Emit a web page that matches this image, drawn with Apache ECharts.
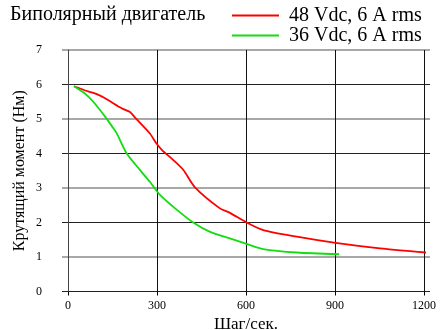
<!DOCTYPE html>
<html><head><meta charset="utf-8">
<script src="https://cdn.jsdelivr.net/npm/echarts@6/dist/echarts.min.js"></script>
<style>html,body{margin:0;padding:0;background:#fff}#c{width:440px;height:330px}</style>
</head><body><div id="c"></div>
<script>
const titleText = 'Биполярный двигатель';
const xName = 'Шаг/сек.';
const yName = 'Крутящий момент (Нм)';
const seriesNames = ['48 Vdc, 6 A rms', '36 Vdc, 6 A rms'];
const red48 = [[20,5.95],[68,5.8],[97,5.72],[125,5.6],[181,5.31],[209,5.2],[226,5.04],[276,4.58],[299,4.28],[317,4.1],[355,3.81],[389,3.52],[428,3.02],[512,2.41],[546,2.28],[600,2.01],[658,1.78],[771,1.59],[902,1.41],[1052,1.25],[1220,1.12]];
const green36 = [[20,5.95],[57,5.74],[85,5.5],[125,5.07],[153,4.73],[164,4.59],[198,4.0],[243,3.52],[276,3.18],[310,2.8],[361,2.41],[422,2.0],[479,1.73],[556,1.51],[602,1.38],[658,1.23],[771,1.13],[914,1.08]];
const xMin = 0, xMax = 1200, xStep = 300;
const yMin = 0, yMax = 7, yStep = 1;

const serif = 'Liberation Serif';
const chart = echarts.init(document.getElementById('c'), null, {renderer:'canvas'});
chart.setOption({
  animation:false,
  backgroundColor:'#fff',
  title:{text:titleText,left:10,top:5,padding:0,textStyle:{fontFamily:serif,fontSize:20,fontWeight:'normal',color:'#000',lineHeight:20}},
  legend:{orient:'vertical',left:232,top:5.5,padding:0,itemWidth:47,itemHeight:2,itemGap:0,icon:'rect',
    data:seriesNames,
    textStyle:{fontFamily:serif,fontSize:20,color:'#000',lineHeight:19,padding:[0,0,0,5]}},
  grid:[
    {left:62,right:10,top:50,bottom:38.5,outerBoundsMode:'none'},
    {left:68,right:16,top:50,bottom:38.5,outerBoundsMode:'none'}
  ],
  xAxis:[
    {gridIndex:0,type:'value',min:0,max:1,show:false},
    {gridIndex:1,type:'value',min:xMin,max:xMax,interval:xStep,
     axisLine:{show:true,lineStyle:{color:'rgba(0,0,0,0)'}},
     axisTick:{show:true,length:4,lineStyle:{color:'#000'}},
     splitLine:{show:true,lineStyle:{color:'#111',width:1}},
     axisLabel:{fontFamily:serif,fontSize:12,color:'#000',margin:8,formatter:v=>String(v)},
     name:xName,nameLocation:'middle',nameGap:24,
     nameTextStyle:{fontFamily:serif,fontSize:17,color:'#000'}}
  ],
  yAxis:[
    {gridIndex:0,type:'value',min:yMin,max:yMax,interval:yStep,
     axisLine:{show:false},axisTick:{show:false},
     axisLabel:{fontFamily:serif,fontSize:12,color:'#000',margin:20},
     splitLine:{show:true,lineStyle:{color:['#222','rgba(0,0,0,0)'],width:1}}},
    {gridIndex:0,type:'value',min:yMin,max:yMax,interval:yStep,position:'left',
     axisLine:{show:false},axisTick:{show:false},axisLabel:{show:false},
     splitLine:{show:true,lineStyle:{color:['rgba(0,0,0,0)','#a8a8a8'],width:2}}},
    {gridIndex:1,type:'value',min:yMin,max:yMax,interval:yStep,
     axisLine:{show:true,lineStyle:{color:'#444',width:1}},axisTick:{show:false},axisLabel:{show:false},
     splitLine:{show:false},
     name:yName,nameLocation:'middle',nameGap:40,nameRotate:90,
     nameTextStyle:{fontFamily:serif,fontSize:16,color:'#000'}}
  ],
  series:[
    {name:seriesNames[0],type:'line',xAxisIndex:1,yAxisIndex:2,data:red48,showSymbol:false,clip:false,smooth:0.25,
     lineStyle:{color:'#ff0000',width:1.8},itemStyle:{color:'#ff0000'}},
    {name:seriesNames[1],type:'line',xAxisIndex:1,yAxisIndex:2,data:green36,showSymbol:false,clip:false,smooth:0.25,
     lineStyle:{color:'#11dd11',width:1.8},itemStyle:{color:'#11dd11'}}
  ]
});
</script></body></html>
